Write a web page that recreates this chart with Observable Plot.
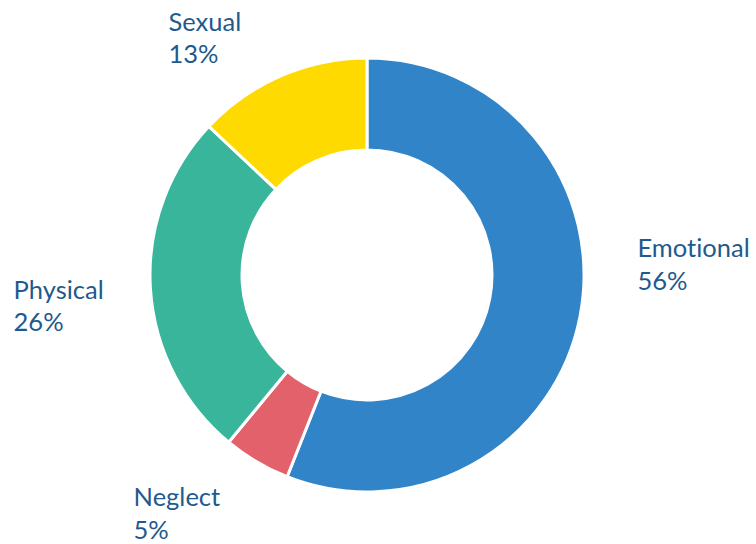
<!DOCTYPE html>
<html>
<head>
<meta charset="utf-8">
<script src="https://cdn.jsdelivr.net/npm/d3@7"></script>
<script src="https://cdn.jsdelivr.net/npm/@observablehq/plot@0.6"></script>
<style>
  html, body { margin: 0; padding: 0; background: #fff; }
  #chart svg { display: block; }
  #chart text { font-variant-ligatures: none; font-feature-settings: "liga" 0; }
</style>
</head>
<body>
<div id="chart"></div>
<script>
// Data
const categories = ["Emotional", "Neglect", "Physical", "Sexual"];
const values = [56, 5, 26, 13];
const colors = ["#3184C7", "#E2616B", "#39B59C", "#FFDA00"];

// Label layout (in radius units relative to donut centre; baseline of last line)
const labelX = [1.244, -1.078, -1.631, -0.917];
const labelY = [-0.065, -1.212, -0.258, 0.977];

const data = categories.map((c, i) => ({
  name: c, value: values[i], color: colors[i],
  label: `${c}\n${values[i]}%`, lx: labelX[i], ly: labelY[i]
}));

const innerRatio = 0.576;

function donut(index, scales) {
  const {x, y} = scales;
  const cx = x(0), cy = y(0), r = x(1) - x(0);
  const arcs = d3.pie().sort(null).value(d => d.value)(data);
  const arc = d3.arc().innerRadius(r * innerRatio).outerRadius(r);
  const g = d3.create("svg:g").attr("transform", `translate(${cx},${cy})`);
  g.selectAll("path").data(arcs).join("path")
    .attr("d", arc)
    .attr("fill", d => d.data.color)
    .attr("stroke", "white")
    .attr("stroke-width", 3)
    .attr("stroke-linejoin", "miter");
  return g.node();
}

const chart = Plot.plot({
  width: 756,
  height: 544,
  marginLeft: 150,
  marginRight: 172,
  marginTop: 58,
  marginBottom: 52,
  x: {domain: [-1, 1], axis: null},
  y: {domain: [-1, 1], axis: null},
  style: {fontFamily: "Lato, sans-serif", background: "white"},
  marks: [
    donut,
    Plot.text(data, {
      x: "lx", y: "ly", text: "label",
      textAnchor: "start", lineAnchor: "bottom",
      lineHeight: 1.27,
      fontSize: 25.5, fill: "#1F5A8E"
    })
  ]
});
document.getElementById("chart").appendChild(chart);
</script>
</body>
</html>
